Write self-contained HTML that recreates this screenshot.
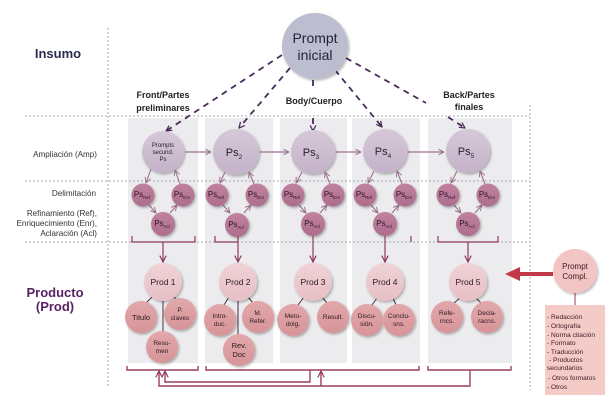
<!DOCTYPE html>
<html><head><meta charset="utf-8"><style>
html,body{margin:0;padding:0;background:#fff;}
svg{display:block;font-family:"Liberation Sans",sans-serif;}
</style></head><body>
<svg width="616" height="410" viewBox="0 0 616 410" xmlns="http://www.w3.org/2000/svg">
<defs>
<filter id="sh" x="-30%" y="-30%" width="170%" height="170%">
<feDropShadow dx="1.2" dy="1.5" stdDeviation="1.4" flood-color="#000" flood-opacity="0.3"/>
</filter>
<linearGradient id="gl" x1="0" y1="0" x2="0" y2="1"><stop offset="0" stop-color="#d6c8d8"/><stop offset="1" stop-color="#c4b2c8"/></linearGradient>
<linearGradient id="gm" x1="0" y1="0" x2="0" y2="1"><stop offset="0" stop-color="#c0829f"/><stop offset="1" stop-color="#ad6d8c"/></linearGradient>
<linearGradient id="gp" x1="0" y1="0" x2="0" y2="1"><stop offset="0" stop-color="#f0d2d6"/><stop offset="1" stop-color="#e6bfc5"/></linearGradient>
<linearGradient id="gc" x1="0" y1="0" x2="0" y2="1"><stop offset="0" stop-color="#e2a8ab"/><stop offset="1" stop-color="#d69498"/></linearGradient>
<marker id="ad" viewBox="0 0 10 10" refX="9" refY="5" markerWidth="7" markerHeight="7" markerUnits="userSpaceOnUse" orient="auto"><path d="M1,1 L9,5 L1,9" fill="none" stroke="#4b2b5b" stroke-width="1.8"/></marker>
<marker id="am" viewBox="0 0 10 10" refX="9" refY="5" markerWidth="7" markerHeight="7" markerUnits="userSpaceOnUse" orient="auto"><path d="M1,1 L9,5 L1,9" fill="none" stroke="#9c6f8e" stroke-width="1.4"/></marker>
<marker id="ar" viewBox="0 0 10 10" refX="9" refY="5" markerWidth="8" markerHeight="8" markerUnits="userSpaceOnUse" orient="auto"><path d="M1,1 L9,5 L1,9" fill="none" stroke="#8d3a5e" stroke-width="1.5"/></marker>
</defs>

<!-- panels -->
<g fill="#ececee">
<rect x="128" y="118" width="70" height="245"/>
<rect x="205" y="118" width="68" height="245"/>
<rect x="280" y="118" width="67" height="245"/>
<rect x="352" y="118" width="68" height="245"/>
<rect x="428" y="118" width="84" height="245"/>
</g>

<!-- dotted grid -->
<g stroke="#a9a9ad" stroke-width="1" stroke-dasharray="2,2" fill="none">
<line x1="25" y1="116" x2="530" y2="116"/>
<line x1="25" y1="181" x2="530" y2="181"/>
<line x1="25" y1="242" x2="530" y2="242"/>
<line x1="108" y1="28" x2="108" y2="387"/>
<line x1="530" y1="105" x2="530" y2="390"/>
</g>

<!-- left labels -->
<text x="58" y="58" font-size="13" font-weight="bold" fill="#2b2d4d" text-anchor="middle">Insumo</text>
<g font-size="8.1" fill="#333" text-anchor="end">
<text x="97" y="157">Ampliación (Amp)</text>
<text x="96" y="196">Delimitación</text>
<text x="97" y="216">Refinamiento (Ref),</text>
<text x="97" y="226">Enriquecimiento (Enr),</text>
<text x="97" y="236">Aclaración (Acl)</text>
</g>
<text x="55" y="297" font-size="13" font-weight="bold" fill="#5a2266" text-anchor="middle">Producto</text>
<text x="55" y="311" font-size="13" font-weight="bold" fill="#5a2266" text-anchor="middle">(Prod)</text>

<!-- section labels -->
<g font-size="9" font-weight="bold" fill="#222" text-anchor="middle">
<text x="163" y="98">Front/Partes</text>
<text x="163" y="111">preliminares</text>
<text x="314" y="104">Body/Cuerpo</text>
<text x="469" y="98">Back/Partes</text>
<text x="469" y="110">finales</text>
</g>

<!-- dashed arrows -->
<g stroke="#4b2b5b" stroke-width="1.8" stroke-dasharray="6,5" fill="none">
<line x1="282" y1="55" x2="166" y2="131" marker-end="url(#ad)"/>
<line x1="290" y1="68" x2="239" y2="128" marker-end="url(#ad)"/>
<line x1="313" y1="80" x2="313" y2="90"/>
<line x1="313" y1="118" x2="313" y2="131" marker-end="url(#ad)"/>
<line x1="335" y1="70" x2="382" y2="127" marker-end="url(#ad)"/>
<line x1="346" y1="58" x2="426" y2="103"/>
<line x1="448" y1="117" x2="465" y2="128" marker-end="url(#ad)"/>
</g>

<!-- prompt inicial -->
<circle cx="315" cy="46" r="33" fill="#bcbdcf" filter="url(#sh)"/>
<text x="315" y="43" font-size="14" fill="#23233a" text-anchor="middle">Prompt</text>
<text x="315" y="60" font-size="14" fill="#23233a" text-anchor="middle">inicial</text>

<!-- amp row arrows -->
<g stroke="#9c6f8e" stroke-width="1.2" fill="none">
<line x1="185" y1="152" x2="211" y2="152" marker-end="url(#am)"/>
<line x1="260" y1="152" x2="289" y2="152" marker-end="url(#am)"/>
<line x1="336" y1="152" x2="361" y2="152" marker-end="url(#am)"/>
<line x1="408" y1="152" x2="444" y2="152" marker-end="url(#am)"/>
</g>

<!-- amp circles -->
<g fill="url(#gl)" filter="url(#sh)">
<circle cx="163" cy="152" r="21"/>
<circle cx="236" cy="152" r="23"/>
<circle cx="313" cy="152" r="22"/>
<circle cx="385" cy="151" r="22"/>
<circle cx="468" cy="151" r="22"/>
</g>
<g font-size="6" fill="#2a2030" text-anchor="middle">
<text x="163" y="147">Prompts</text>
<text x="163" y="154">secund.</text>
<text x="163" y="161">Ps</text>
</g>
<g font-size="11" fill="#2a2030" text-anchor="middle">
<text x="234" y="156">Ps<tspan font-size="6.5" dy="3">2</tspan></text>
<text x="311" y="156">Ps<tspan font-size="6.5" dy="3">3</tspan></text>
<text x="383" y="155">Ps<tspan font-size="6.5" dy="3">4</tspan></text>
<text x="466" y="155">Ps<tspan font-size="6.5" dy="3">5</tspan></text>
</g>

<g stroke="#9c6f8e" stroke-width="1.1" fill="none">
<line x1="151" y1="169" x2="146" y2="183" marker-end="url(#am)"/>
<line x1="149" y1="205" x2="156" y2="213" marker-end="url(#am)"/>
<line x1="170" y1="213" x2="177" y2="205" marker-end="url(#am)"/>
<line x1="180" y1="184" x2="175" y2="170" marker-end="url(#am)"/>
<line x1="225" y1="172" x2="220" y2="183" marker-end="url(#am)"/>
<line x1="223" y1="205" x2="230" y2="213" marker-end="url(#am)"/>
<line x1="244" y1="213" x2="251" y2="205" marker-end="url(#am)"/>
<line x1="254" y1="184" x2="249" y2="172" marker-end="url(#am)"/>
<line x1="302" y1="172" x2="296" y2="183" marker-end="url(#am)"/>
<line x1="299" y1="205" x2="306" y2="213" marker-end="url(#am)"/>
<line x1="320" y1="213" x2="327" y2="205" marker-end="url(#am)"/>
<line x1="330" y1="184" x2="325" y2="172" marker-end="url(#am)"/>
<line x1="374" y1="171" x2="368" y2="183" marker-end="url(#am)"/>
<line x1="371" y1="205" x2="378" y2="213" marker-end="url(#am)"/>
<line x1="392" y1="213" x2="399" y2="205" marker-end="url(#am)"/>
<line x1="402" y1="184" x2="397" y2="171" marker-end="url(#am)"/>
<line x1="457" y1="171" x2="451" y2="183" marker-end="url(#am)"/>
<line x1="454" y1="205" x2="461" y2="213" marker-end="url(#am)"/>
<line x1="475" y1="213" x2="482" y2="205" marker-end="url(#am)"/>
<line x1="485" y1="184" x2="480" y2="171" marker-end="url(#am)"/>
</g>
<g fill="url(#gm)" filter="url(#sh)">
<circle cx="143" cy="195" r="11.5"/><circle cx="183" cy="195" r="11.5"/><circle cx="163" cy="224" r="12"/>
<circle cx="217" cy="195" r="11.5"/><circle cx="257" cy="195" r="11.5"/><circle cx="237" cy="225" r="12"/>
<circle cx="293" cy="195" r="11.5"/><circle cx="333" cy="195" r="11.5"/><circle cx="313" cy="224" r="12"/>
<circle cx="365" cy="195" r="11.5"/><circle cx="405" cy="195" r="11.5"/><circle cx="385" cy="224" r="12"/>
<circle cx="448" cy="195" r="11.5"/><circle cx="488" cy="195" r="11.5"/><circle cx="468" cy="224" r="12"/>
</g>
<g font-size="8" fill="#2e1523" text-anchor="middle">
<text x="142" y="197">Ps<tspan font-size="4.5" dy="2">Ref</tspan></text>
<text x="182" y="197">Ps<tspan font-size="4.5" dy="2">Enr</tspan></text>
<text x="162" y="226">Ps<tspan font-size="4.5" dy="2">Acl</tspan></text>
<text x="216" y="197">Ps<tspan font-size="4.5" dy="2">Ref</tspan></text>
<text x="256" y="197">Ps<tspan font-size="4.5" dy="2">Enr</tspan></text>
<text x="236" y="227">Ps<tspan font-size="4.5" dy="2">Acl</tspan></text>
<text x="292" y="197">Ps<tspan font-size="4.5" dy="2">Ref</tspan></text>
<text x="332" y="197">Ps<tspan font-size="4.5" dy="2">Enr</tspan></text>
<text x="312" y="226">Ps<tspan font-size="4.5" dy="2">Acl</tspan></text>
<text x="364" y="197">Ps<tspan font-size="4.5" dy="2">Ref</tspan></text>
<text x="404" y="197">Ps<tspan font-size="4.5" dy="2">Enr</tspan></text>
<text x="384" y="226">Ps<tspan font-size="4.5" dy="2">Acl</tspan></text>
<text x="447" y="197">Ps<tspan font-size="4.5" dy="2">Ref</tspan></text>
<text x="487" y="197">Ps<tspan font-size="4.5" dy="2">Enr</tspan></text>
<text x="467" y="226">Ps<tspan font-size="4.5" dy="2">Acl</tspan></text>
</g>

<!-- delimitation brackets + stems -->
<g stroke="#8d3a5e" stroke-width="1.2" fill="none">
<path d="M132,236 V242 H195 V236"/>
<path d="M215,236 V242 H238"/>
<path d="M411,236 V242"/>
<path d="M438,236 V242 H498 V236"/>
<line x1="163" y1="242" x2="163" y2="262" marker-end="url(#ar)"/>
<line x1="238" y1="236" x2="238" y2="262" marker-end="url(#ar)"/>
<line x1="313" y1="236" x2="313" y2="262" marker-end="url(#ar)"/>
<line x1="385" y1="236" x2="385" y2="262" marker-end="url(#ar)"/>
<line x1="468" y1="242" x2="468" y2="262" marker-end="url(#ar)"/>
</g>

<!-- prod connecting lines -->
<g stroke="#4a3040" stroke-width="1" fill="none">
<line x1="153" y1="296" x2="146" y2="303"/>
<line x1="173" y1="296" x2="177" y2="300"/>
<line x1="163" y1="301" x2="163" y2="332"/>
<line x1="229" y1="297" x2="224" y2="305"/>
<line x1="248" y1="297" x2="253" y2="303"/>
<line x1="238" y1="301" x2="238" y2="335"/>
<line x1="304" y1="297" x2="298" y2="305"/>
<line x1="322" y1="297" x2="327" y2="303"/>
<line x1="377" y1="298" x2="372" y2="305"/>
<line x1="393" y1="298" x2="396" y2="305"/>
<line x1="460" y1="298" x2="454" y2="303"/>
<line x1="476" y1="298" x2="481" y2="303"/>
</g>

<!-- prod circles -->
<g fill="url(#gp)" filter="url(#sh)">
<circle cx="163" cy="282" r="19"/>
<circle cx="238" cy="282" r="19"/>
<circle cx="313" cy="282" r="19"/>
<circle cx="385" cy="282" r="19"/>
<circle cx="468" cy="282" r="19"/>
</g>
<g font-size="8.5" fill="#2e1a22" text-anchor="middle">
<text x="163" y="285">Prod 1</text>
<text x="238" y="285">Prod 2</text>
<text x="313" y="285">Prod 3</text>
<text x="385" y="285">Prod 4</text>
<text x="468" y="285">Prod 5</text>
</g>

<!-- child circles -->
<g fill="url(#gc)" filter="url(#sh)">
<circle cx="141" cy="317" r="16"/>
<circle cx="180" cy="314" r="16"/>
<circle cx="162" cy="347" r="16"/>
<circle cx="220" cy="320" r="16"/>
<circle cx="258" cy="317" r="16"/>
<circle cx="239" cy="350" r="16"/>
<circle cx="293" cy="320" r="16"/>
<circle cx="333" cy="317" r="16"/>
<circle cx="367" cy="320" r="16"/>
<circle cx="399" cy="320" r="16"/>
<circle cx="447" cy="317" r="16"/>
<circle cx="487" cy="317" r="16"/>
</g>
<g font-size="6.5" fill="#2e1a22" text-anchor="middle">
<text x="141" y="320" font-size="7.5">Titulo</text>
<text x="180" y="312">P.</text><text x="180" y="320">claves</text>
<text x="162" y="345">Resu-</text><text x="162" y="353">men</text>
<text x="220" y="318">Intro-</text><text x="220" y="326">duc.</text>
<text x="258" y="315">M.</text><text x="258" y="323">Refer.</text>
<text x="239" y="348" font-size="7.5">Rev.</text><text x="239" y="357" font-size="7.5">Doc</text>
<text x="293" y="318">Meto-</text><text x="293" y="326">dolg.</text>
<text x="333" y="319">Result.</text>
<text x="367" y="318">Discu-</text><text x="367" y="326">sión.</text>
<text x="399" y="318">Conclu-</text><text x="399" y="326">sns.</text>
<text x="447" y="315">Refe-</text><text x="447" y="323">rncs.</text>
<text x="487" y="315">Decla-</text><text x="487" y="323">racns.</text>
</g>

<!-- bottom brackets & feedback connectors -->
<g stroke="#9b3d62" stroke-width="1.4" fill="none">
<path d="M127,366 V370 H198 V366"/>
<path d="M206,366 V370 H419 V366"/>
<path d="M428,366 V370 H511 V366"/>
<path d="M310,370 V382 H165 V371" marker-end="url(#ar)"/>
<path d="M470,370 V386 H159 V371" marker-end="url(#ar)"/>
<line x1="321" y1="386" x2="321" y2="371" marker-end="url(#ar)"/>
</g>

<!-- prompt compl -->
<line x1="553" y1="274" x2="516" y2="274" stroke="#c23a48" stroke-width="4"/>
<polygon points="505,274 520,267 520,281" fill="#c23a48"/>
<line x1="575" y1="293" x2="575" y2="305" stroke="#9b3d62" stroke-width="1"/>
<circle cx="575" cy="271" r="22" fill="#f2c4c4" filter="url(#sh)"/>
<text x="575" y="269" font-size="8" fill="#3a1a22" text-anchor="middle">Prompt</text>
<text x="575" y="279" font-size="8" fill="#3a1a22" text-anchor="middle">Compl.</text>
<rect x="545" y="305" width="60" height="90" fill="#f5cbc8"/>
<g font-size="6.6" fill="#3a1a22">
<text x="547" y="319">- Redacción</text>
<text x="547" y="328">- Ortografía</text>
<text x="547" y="337">- Norma citación</text>
<text x="547" y="345">- Formato</text>
<text x="547" y="354">- Traducción</text>
<text x="549" y="362">- Productos</text>
<text x="547" y="370">secundarios</text>
<text x="548" y="380">- Otros formatos</text>
<text x="547" y="389">- Otros</text>
</g>
</svg>
</body></html>
